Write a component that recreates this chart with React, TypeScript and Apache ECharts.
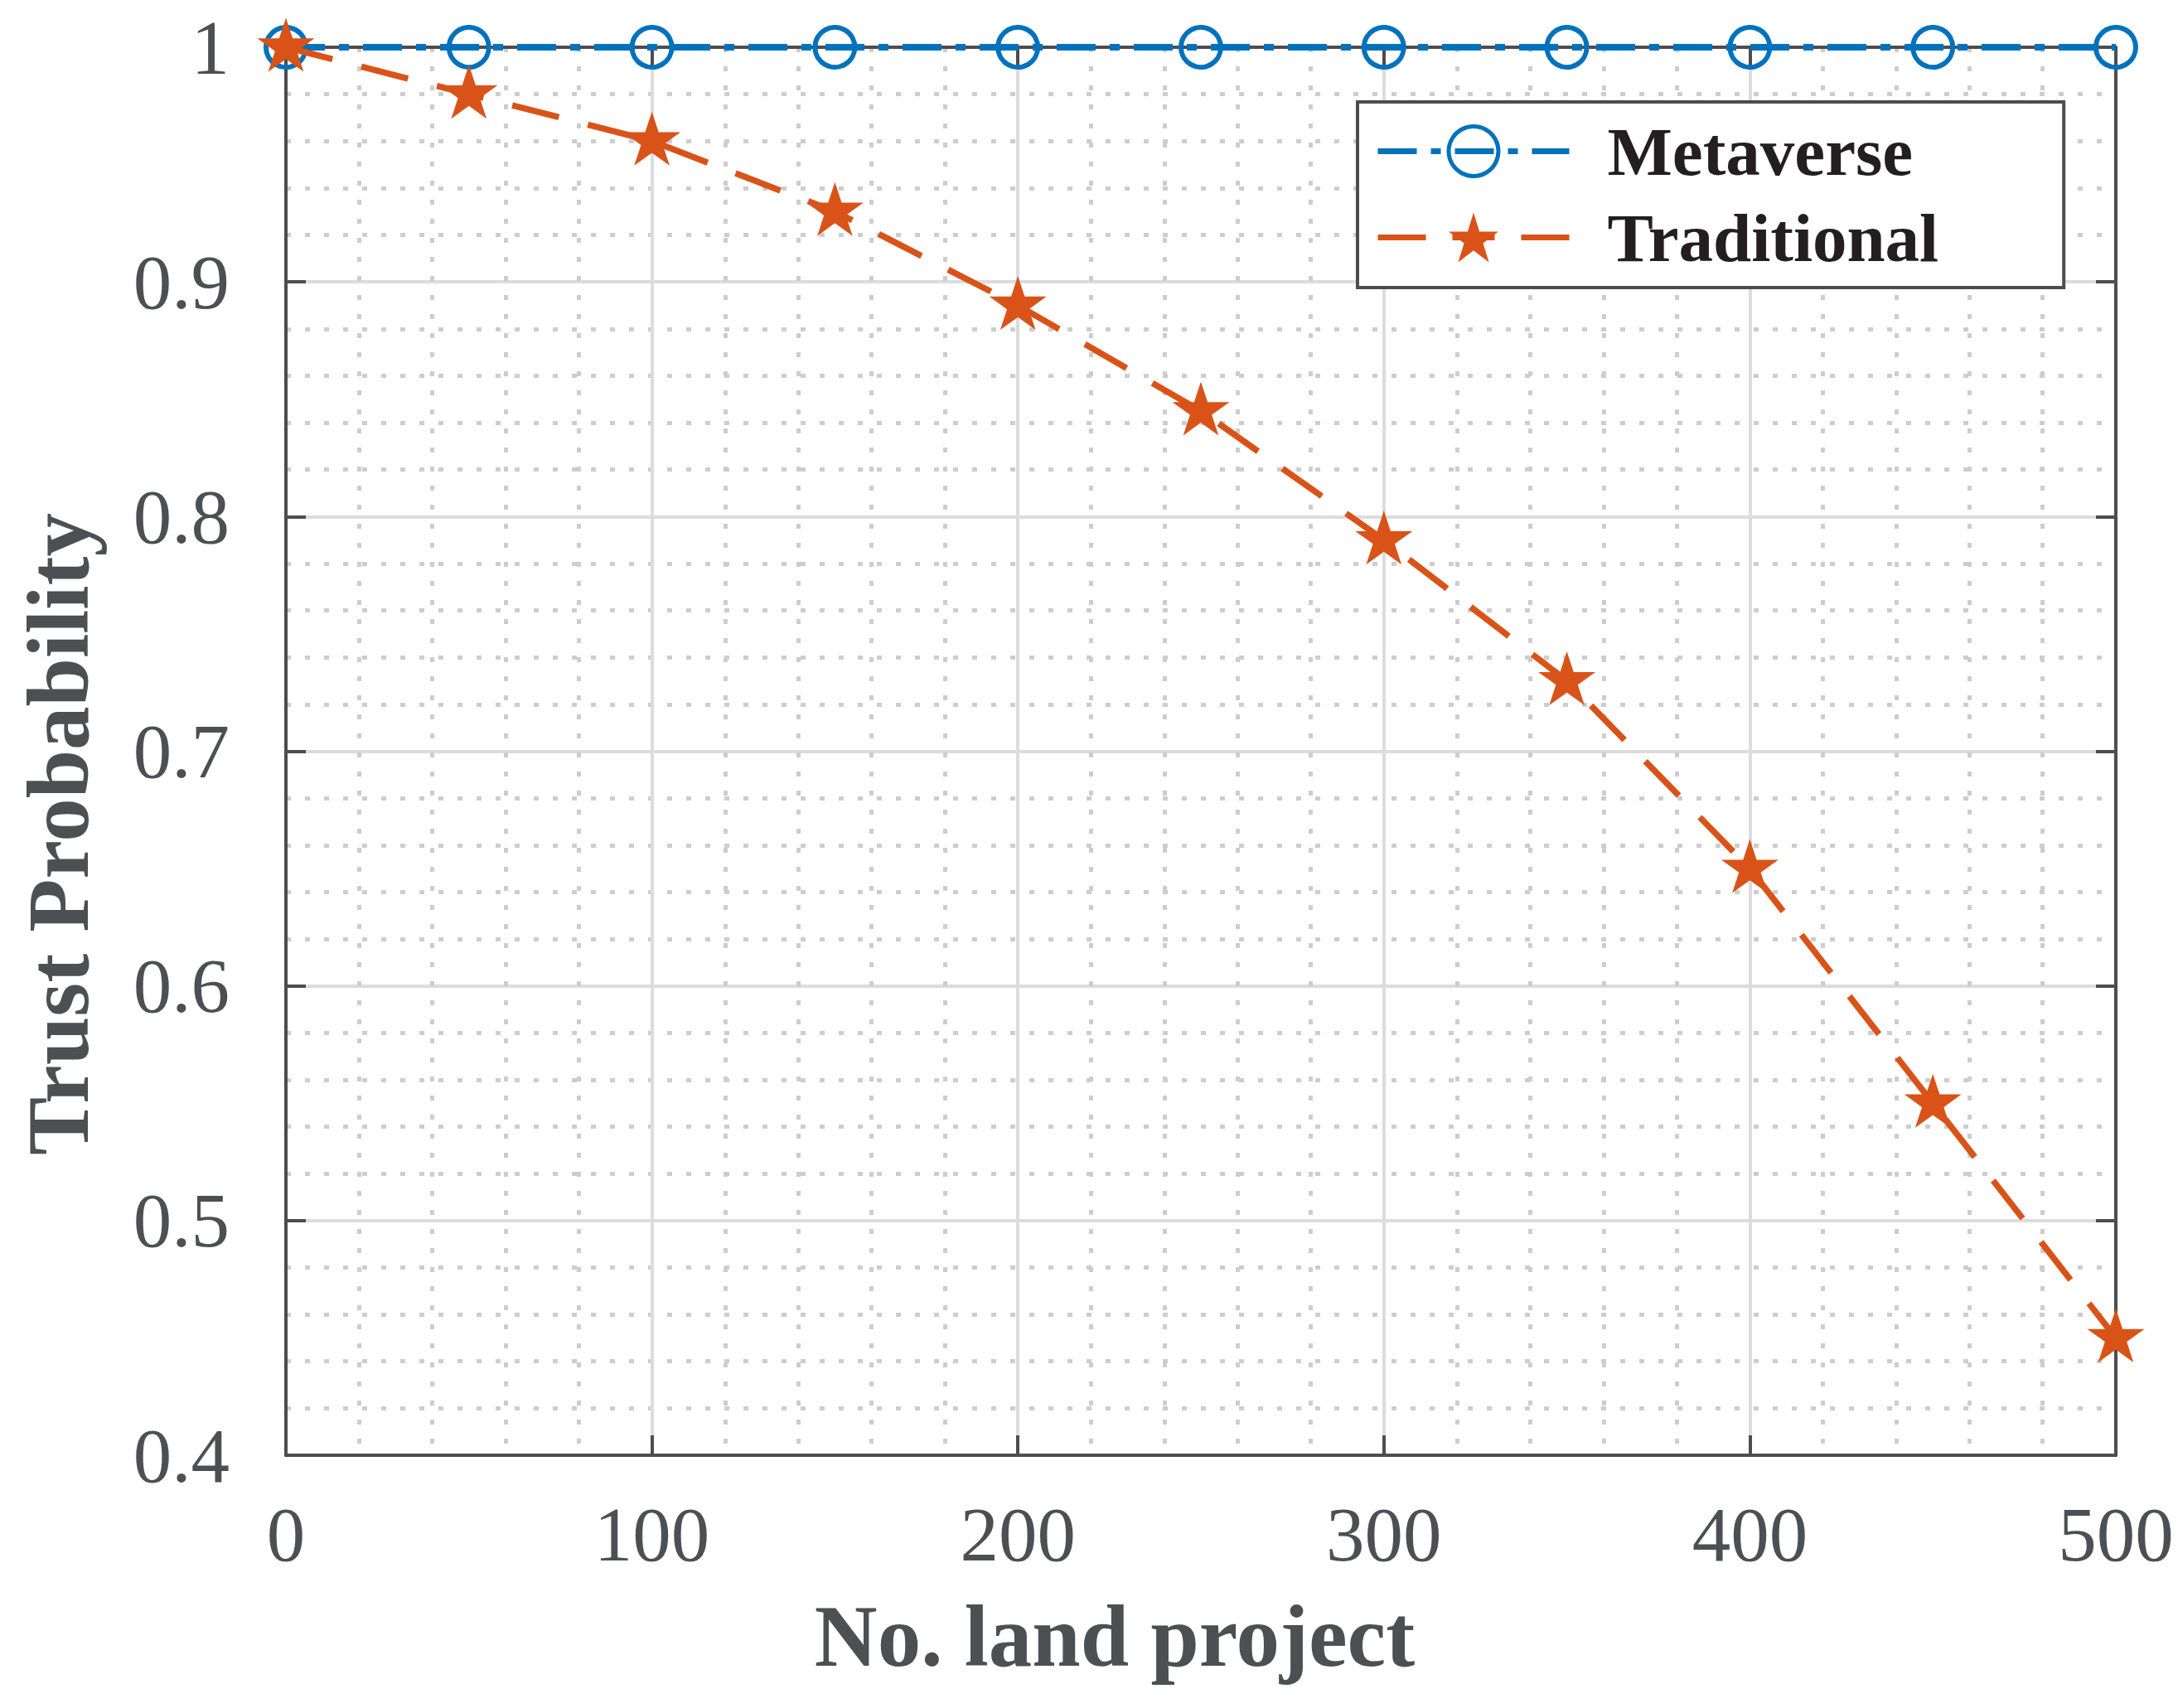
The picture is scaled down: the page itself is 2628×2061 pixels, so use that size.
import React, { useEffect, useRef } from "react";
import * as echarts from "echarts";

// Number of land projects on the horizontal axis
const projectCounts = [0, 50, 100, 150, 200, 250, 300, 350, 400, 450, 500];
// Trust probability of each approach
const metaverseTrust = [1, 1, 1, 1, 1, 1, 1, 1, 1, 1, 1];
const traditionalTrust = [1, 0.98, 0.96, 0.93, 0.89, 0.845, 0.79, 0.73, 0.65, 0.55, 0.45];

const seriesNames = ["Metaverse", "Traditional"];
const xTitle = "No. land project";
const yTitle = "Trust Probability";

const BLUE = "#0072BD";
const ORANGE = "#D95319";
const AXIS = "#4d4d50";
const AXIS_TEXT = "#4d4f52";
const FONT = "'Liberation Serif', 'Times New Roman', serif";

// regular five-pointed star
const STAR =
  "path://M50 0 L61.23 34.55 L97.55 34.55 L68.16 55.9 L79.39 90.45 L50 69.1 L20.61 90.45 L31.84 55.9 L2.45 34.55 L38.77 34.55 Z";

const pairs = (ys: number[]) => projectCounts.map((x, i) => [x, ys[i]]);

export default function App() {
  const ref = useRef<HTMLDivElement>(null);

  useEffect(() => {
    if (!ref.current) return;
    const chart = echarts.init(ref.current, undefined, { renderer: "svg" });

    const minorGrid = {
      show: true,
      lineStyle: { color: "#cdcdcf", width: 5, type: [6, 17] },
    };
    const majorGrid = { show: true, lineStyle: { color: "#dcdcdf", width: 4 } };
    const axisLine = { show: true, onZero: false, lineStyle: { color: AXIS, width: 4 } };
    const axisTick = { show: true, inside: true, length: 24, lineStyle: { color: AXIS, width: 4 } };

    chart.setOption({
      animation: false,
      backgroundColor: "#ffffff",
      grid: { left: 345, right: 75, top: 57, bottom: 305, containLabel: false },
      legend: {
        left: 1638,
        top: 123,
        orient: "vertical",
        selectedMode: false,
        itemWidth: 231,
        itemHeight: 75,
        itemGap: 21,
        padding: [18, 151, 19, 21],
        backgroundColor: "#ffffff",
        borderColor: AXIS,
        borderWidth: 4,
        textStyle: {
          fontFamily: FONT,
          fontSize: 83,
          fontWeight: "bold",
          color: "#231f20",
          padding: [0, 0, 0, 41],
        },
        data: [
          {
            name: seriesNames[0],
            lineStyle: { width: 7, type: [47, 17, 12, 17] },
            itemStyle: { borderWidth: 5 },
          },
          {
            name: seriesNames[1],
            lineStyle: { width: 7, type: [58, 32, 51, 32, 58] },
          },
        ],
      },
      xAxis: [
        {
          type: "value",
          min: 0,
          max: 500,
          interval: 100,
          name: xTitle,
          nameLocation: "middle",
          nameGap: 166,
          nameTextStyle: {
            fontFamily: FONT,
            fontSize: 105,
            fontWeight: "bold",
            color: AXIS_TEXT,
            padding: [0, 208, 0, 0],
          },
          axisLine,
          axisTick,
          axisLabel: { fontFamily: FONT, fontSize: 93, color: AXIS_TEXT, margin: 49 },
          splitLine: majorGrid,
          minorTick: { show: false, splitNumber: 5 },
          minorSplitLine: minorGrid,
        },
        {
          type: "value",
          position: "top",
          min: 0,
          max: 500,
          interval: 100,
          axisLine,
          axisTick,
          axisLabel: { show: false },
          splitLine: { show: false },
        },
      ],
      yAxis: [
        {
          type: "value",
          min: 0.4,
          max: 1,
          interval: 0.1,
          name: yTitle,
          nameLocation: "middle",
          nameGap: 222,
          nameTextStyle: {
            fontFamily: FONT,
            fontSize: 105,
            fontWeight: "bold",
            color: AXIS_TEXT,
            padding: [0, 200, 0, 0],
          },
          axisLine,
          axisTick,
          axisLabel: {
            fontFamily: FONT,
            fontSize: 93,
            color: AXIS_TEXT,
            margin: 68,
            formatter: (v: number) => String(Number(v.toFixed(1))),
          },
          splitLine: majorGrid,
          minorTick: { show: false, splitNumber: 5 },
          minorSplitLine: minorGrid,
        },
        {
          type: "value",
          position: "right",
          min: 0.4,
          max: 1,
          interval: 0.1,
          axisLine,
          axisTick,
          axisLabel: { show: false },
          splitLine: { show: false },
        },
      ],
      series: [
        {
          name: seriesNames[0],
          type: "line",
          data: pairs(metaverseTrust),
          clip: false,
          color: BLUE,
          symbol: "circle",
          symbolSize: 48,
          itemStyle: { color: "transparent", borderColor: BLUE, borderWidth: 6 },
          lineStyle: { color: BLUE, width: 8, type: [47, 17, 12, 17] },
          z: 3,
        },
        {
          name: seriesNames[1],
          type: "line",
          data: pairs(traditionalTrust),
          clip: false,
          color: ORANGE,
          symbol: STAR,
          symbolSize: [69, 65],
          symbolOffset: [0, -3],
          itemStyle: { color: ORANGE },
          lineStyle: { color: ORANGE, width: 7.5, type: [58, 36] },
          z: 4,
        },
      ],
    });

    return () => chart.dispose();
  }, []);

  return (
    <div
      ref={ref}
      style={{ position: "absolute", left: 0, top: 0, width: 2628, height: 2061, background: "#fff" }}
    />
  );
}
